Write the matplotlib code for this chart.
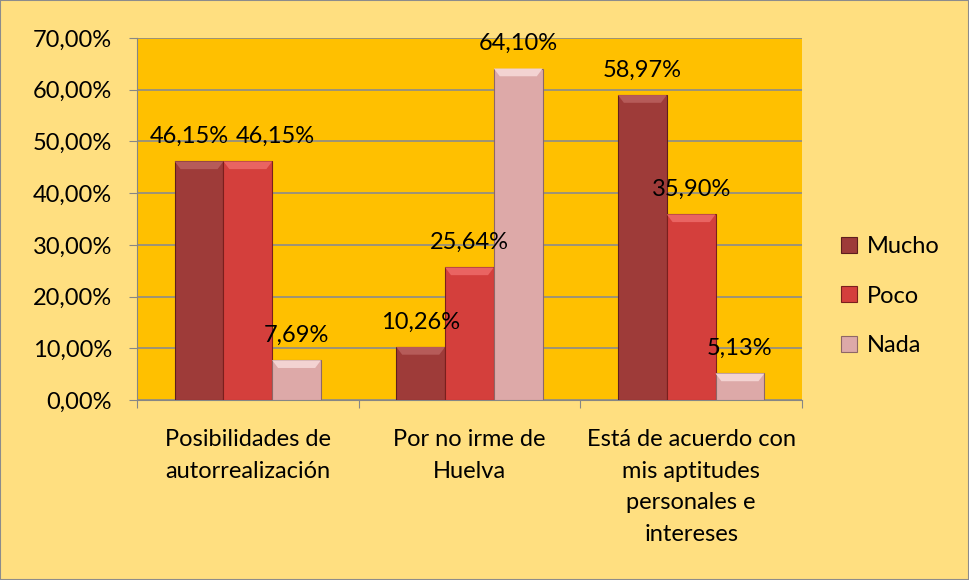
import numpy as np
import matplotlib.pyplot as plt
from matplotlib.patches import Rectangle, Polygon

plt.rcParams['font.family'] = ['Lato', 'DejaVu Sans']

categories = ['Posibilidades de\nautorrealización',
              'Por no irme de\nHuelva',
              'Está de acuerdo con\nmis aptitudes\npersonales e\nintereses']
series = ['Mucho', 'Poco', 'Nada']
mucho = [46.15, 10.26, 58.97]
poco = [46.15, 25.64, 35.90]
nada = [7.69, 64.10, 5.13]
yticks = [0, 10, 20, 30, 40, 50, 60, 70]

COLOURS = {'Mucho': '#9E3B39', 'Poco': '#D43F3C', 'Nada': '#DDA9A8'}
EDGES = {'Mucho': '#5E1E1D', 'Poco': '#7A1F1D', 'Nada': '#8E6766'}
TOPS = {'Mucho': '#B65B59', 'Poco': '#E96462', 'Nada': '#F3D3D2'}

FS = 17

fig = plt.figure(figsize=(9.69, 5.8), dpi=100, facecolor='#FFDF80')
ax = fig.add_axes([137 / 969, 1 - 400 / 580, 665 / 969, 362 / 580])
ax.set_facecolor('#FFC000')

x = np.arange(len(categories))
w = 0.22
all_vals = [mucho, poco, nada]
for i, (name, vals) in enumerate(zip(series, all_vals)):
    pos = x + (i - 1) * w
    bars = ax.bar(pos, vals, w, color=COLOURS[name], edgecolor=EDGES[name],
                  linewidth=0.8, label=name, zorder=3)
    # top bevel, like the 3D look of the original
    for b in bars:
        x0, bw, h = b.get_x(), b.get_width(), b.get_height()
        bev = min(1.5, h * 0.3)
        ax.add_patch(Polygon([(x0, h), (x0 + bw, h), (x0 + bw * 0.88, h - bev),
                              (x0 + bw * 0.12, h - bev)], closed=True,
                             facecolor=TOPS[name], edgecolor='none', zorder=3.5))
    for k, (p, v) in enumerate(zip(pos, vals)):
        # nudge labels apart when neighbouring bars have the same height
        dx = 0
        if i == 0 and abs(v - poco[k]) < 3:
            dx = -7
        if i == 1 and abs(v - mucho[k]) < 3:
            dx = 20
        ax.annotate(f"{v:.2f}%".replace('.', ','), (p, v + 4.8),
                    xytext=(dx, 0), textcoords='offset points',
                    ha='center', va='center', fontsize=FS, zorder=4)

ax.set_xlim(-0.5, 2.5)
ax.set_ylim(0, 70)
ax.set_yticks(yticks)
ax.set_yticklabels([f"{t:.2f}%".replace('.', ',') for t in yticks], fontsize=FS)
ax.set_xticks([-0.5, 0.5, 1.5, 2.5])
ax.set_xticklabels([])
ax.tick_params(axis='x', length=6, color='#868686', direction='out')
ax.tick_params(axis='y', length=6, color='#868686', direction='out', pad=12)
for c, lab in zip(x, categories):
    ax.text(c, -5.6, lab, ha='center', va='top', fontsize=FS,
            linespacing=1.62)

ax.grid(axis='y', color='#8C8C8C', linewidth=1.2, zorder=0)
for side in ['top', 'right']:
    ax.spines[side].set_visible(False)
ax.spines['left'].set_color('#868686')
ax.spines['bottom'].set_color('#868686')

leg = ax.legend(loc='center left', bbox_to_anchor=(1.027, 0.287), frameon=False,
                fontsize=FS, handlelength=0.65, handleheight=0.65,
                handletextpad=0.45, labelspacing=1.2)

fig.patches.append(Rectangle((0, 0), 1, 1, transform=fig.transFigure,
                             fill=False, edgecolor='#8C8C8C', linewidth=1.5))

plt.savefig('out.png', dpi=100, facecolor=fig.get_facecolor())
plt.close()
